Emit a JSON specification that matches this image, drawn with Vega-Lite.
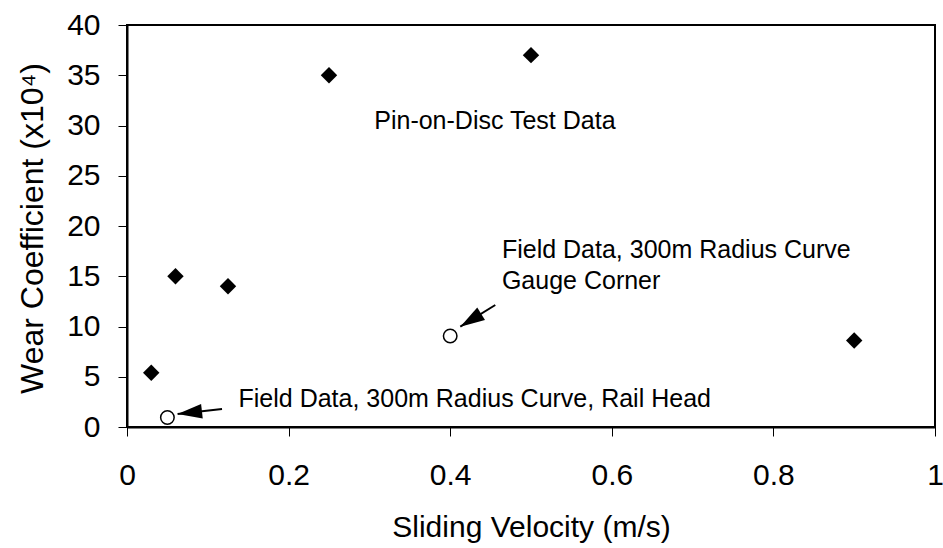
{
  "$schema": "https://vega.github.io/schema/vega-lite/v6.json",
  "width": 808,
  "height": 402,
  "autosize": {"type": "none"},
  "padding": {"left": 127, "top": 25, "right": 8, "bottom": 121},
  "background": "white",
  "config": {
    "font": "Liberation Sans",
    "view": {"stroke": "black", "strokeWidth": 2},
    "axis": {
      "grid": false,
      "labelFlush": false,
      "domainColor": "black",
      "domainWidth": 2,
      "tickColor": "black",
      "tickWidth": 1,
      "tickSize": 9,
      "labelFont": "Liberation Sans",
      "labelFontSize": 30,
      "labelColor": "black",
      "titleFont": "Liberation Sans",
      "titleFontSize": 30,
      "titleFontWeight": "normal",
      "titleColor": "black"
    }
  },
  "datasets": {
    "pin": [
      {"velocity": 0.03, "wear": 5.4},
      {"velocity": 0.06, "wear": 15},
      {"velocity": 0.125, "wear": 14},
      {"velocity": 0.25, "wear": 35},
      {"velocity": 0.5, "wear": 37},
      {"velocity": 0.9, "wear": 8.6}
    ],
    "field": [
      {"velocity": 0.05, "wear": 0.95},
      {"velocity": 0.4, "wear": 9.05}
    ],
    "notes": [
      {"x": 0.306, "y": 29.65, "label": "Pin-on-Disc Test Data"},
      {"x": 0.464, "y": 16.8, "label": "Field Data, 300m Radius Curve"},
      {"x": 0.464, "y": 13.7, "label": "Gauge Corner"},
      {"x": 0.138, "y": 1.96, "label": "Field Data, 300m Radius Curve, Rail Head"}
    ],
    "arrowRail": [{"x": 0.1176, "y": 1.79, "x2": 0.0626, "y2": 1.29}],
    "arrowGauge": [{"x": 0.4558, "y": 12.14, "x2": 0.4125, "y2": 9.98}]
  },
  "layer": [
    {
      "data": {"name": "pin"},
      "mark": {"type": "point", "shape": "diamond", "filled": true, "color": "black", "size": 270, "opacity": 1},
      "encoding": {
        "x": {
          "field": "velocity",
          "type": "quantitative",
          "scale": {"domain": [0, 1], "nice": false},
          "axis": {
            "values": [0, 0.2, 0.4, 0.6, 0.8, 1],
            "format": "~g",
            "labelPadding": 24,
            "title": "Sliding Velocity (m/s)",
            "titleBaseline": "alphabetic",
            "titleY": 109
          }
        },
        "y": {
          "field": "wear",
          "type": "quantitative",
          "scale": {"domain": [0, 40], "nice": false},
          "axis": {
            "values": [0, 5, 10, 15, 20, 25, 30, 35, 40],
            "labelPadding": 18,
            "title": "Wear Coefficient (x10⁴)",
            "titleFontSize": 32,
            "titleAlign": "center",
            "titleBaseline": "alphabetic",
            "titleX": -85,
            "titleY": 203
          }
        }
      }
    },
    {
      "data": {"name": "field"},
      "mark": {"type": "point", "shape": "circle", "filled": false, "fill": "white", "stroke": "black", "strokeWidth": 1.5, "size": 182, "opacity": 1},
      "encoding": {
        "x": {"field": "velocity", "type": "quantitative"},
        "y": {"field": "wear", "type": "quantitative"}
      }
    },
    {
      "data": {"name": "notes"},
      "mark": {"type": "text", "align": "left", "baseline": "alphabetic", "fontSize": 25, "font": "Liberation Sans", "color": "black"},
      "encoding": {
        "x": {"field": "x", "type": "quantitative"},
        "y": {"field": "y", "type": "quantitative"},
        "text": {"field": "label"}
      }
    },
    {
      "data": {"name": "arrowRail"},
      "mark": {"type": "rule", "color": "black", "strokeWidth": 2},
      "encoding": {
        "x": {"field": "x", "type": "quantitative"},
        "y": {"field": "y", "type": "quantitative"},
        "x2": {"field": "x2"},
        "y2": {"field": "y2"}
      }
    },
    {
      "data": {"name": "arrowRail"},
      "mark": {"type": "point", "shape": "M0,0L0.6,2L-0.6,2Z", "filled": true, "color": "black", "size": 600, "angle": 263.6, "opacity": 1},
      "encoding": {
        "x": {"field": "x2", "type": "quantitative"},
        "y": {"field": "y2", "type": "quantitative"}
      }
    },
    {
      "data": {"name": "arrowGauge"},
      "mark": {"type": "rule", "color": "black", "strokeWidth": 2},
      "encoding": {
        "x": {"field": "x", "type": "quantitative"},
        "y": {"field": "y", "type": "quantitative"},
        "x2": {"field": "x2"},
        "y2": {"field": "y2"}
      }
    },
    {
      "data": {"name": "arrowGauge"},
      "mark": {"type": "point", "shape": "M0,0L0.6,2L-0.6,2Z", "filled": true, "color": "black", "size": 600, "angle": 238.2, "opacity": 1},
      "encoding": {
        "x": {"field": "x2", "type": "quantitative"},
        "y": {"field": "y2", "type": "quantitative"}
      }
    }
  ]
}
